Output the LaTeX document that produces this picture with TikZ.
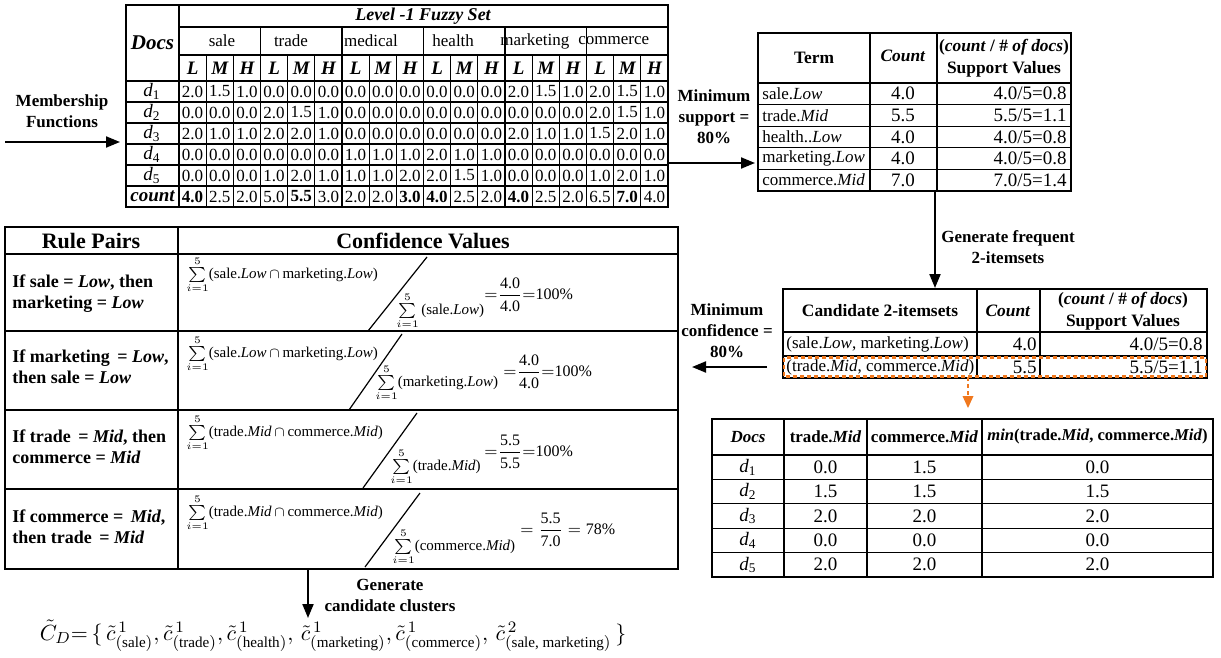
\documentclass[tikz,border=0pt]{standalone}
\usepackage{fontspec}
\usepackage{amsmath}
\setmainfont{Liberation Serif}
\usetikzlibrary{arrows.meta,calc}
\definecolor{dorange}{RGB}{240,120,30}
\newcommand{\mysum}{$\textstyle\sum\limits_{i=1}^{5}$}
\begin{document}
\begin{tikzpicture}[x=0.5pt,y=-0.5pt,
  tb/.style={line width=0.9pt},
  ti/.style={line width=0.6pt},
  v/.style={inner sep=0pt,font=\fontsize{8.5}{10}\selectfont},
  vb/.style={inner sep=0pt,font=\fontsize{9.5}{11}\selectfont},
  hd/.style={inner sep=0pt,font=\bfseries\fontsize{8.7}{11}\selectfont,align=center},
  lab/.style={inner sep=0pt,font=\bfseries\fontsize{8.5}{10.5}\selectfont,align=center},
  rulet/.style={inner sep=0pt,anchor=west,font=\bfseries\fontsize{9}{10.5}\selectfont,align=left},
  fm/.style={inner sep=0pt,anchor=west,font=\fontsize{7.5}{9}\selectfont},
  eqn/.style={inner sep=0pt,anchor=west,font=\fontsize{8}{9}\selectfont},
  arr/.style={line width=1pt,-{Triangle[length=7pt,width=5.5pt]}},
]
\fill[white] (0,0) rectangle (1221,658);
\useasboundingbox (0,0) rectangle (1221,658);

% ================= T1 : Level-1 fuzzy set
\draw[tb] (126,5) rectangle (668,207);
\foreach \yy in {27,55} \draw[ti] (179,\yy) -- (668,\yy);
\foreach \yy in {81,102,123,144,165,186} \draw[ti] (126,\yy) -- (668,\yy);
\draw[ti] (179,5) -- (179,207);
\foreach \k in {1,...,5} \draw[ti] ({179+3*\k*27.1667},27) -- ({179+3*\k*27.1667},207);
\foreach \k in {1,...,17} \draw[ti] ({179+\k*27.1667},55) -- ({179+\k*27.1667},207);
\node[inner sep=0pt,font=\bfseries\itshape\fontsize{10.5}{12}\selectfont] (docs1) at (152.5,43) {Docs};
\node[inner sep=0pt,font=\bfseries\itshape\fontsize{9}{11}\selectfont] (lvl) at (423,16) {Level -1 Fuzzy Set};
\node[v] (tsale) at (222,41) {sale};
\node[v] (ttrade) at (291,41) {trade};
\node[v] (tmed) at (371,41) {medical};
\node[v,anchor=west] (thealth) at (432,41) {health};
\node[v,anchor=west] (tmark) at (500,41) {marketing};
\node[v,anchor=west] (tcomm) at (578,41) {commerce};
\foreach \k in {0,...,5} {
  \node[inner sep=0pt,font=\bfseries\itshape\fontsize{9.5}{11}\selectfont] (hl\k) at ({179+(3*\k+0.5)*27.1667},68) {L};
  \node[inner sep=0pt,font=\bfseries\itshape\fontsize{9.5}{11}\selectfont] (hm\k) at ({179+(3*\k+1.5)*27.1667},68) {M};
  \node[inner sep=0pt,font=\bfseries\itshape\fontsize{9.5}{11}\selectfont] (hh\k) at ({179+(3*\k+2.5)*27.1667},68) {H};
}
\foreach \i in {1,...,5} \node[vb] (t1d\i) at (152,{81+(\i-0.5)*21}) {\textit{d}\textsubscript{\i}};
\node[inner sep=0pt,font=\bfseries\itshape\fontsize{9.5}{11}\selectfont] (t1cnt) at (152.5,196.5) {count};
\foreach \row [count=\r] in {
 {2.0,1.5,1.0,0.0,0.0,0.0,0.0,0.0,0.0,0.0,0.0,0.0,2.0,1.5,1.0,2.0,1.5,1.0},
 {0.0,0.0,0.0,2.0,1.5,1.0,0.0,0.0,0.0,0.0,0.0,0.0,0.0,0.0,0.0,2.0,1.5,1.0},
 {2.0,1.0,1.0,2.0,2.0,1.0,0.0,0.0,0.0,0.0,0.0,0.0,2.0,1.0,1.0,1.5,2.0,1.0},
 {0.0,0.0,0.0,0.0,0.0,0.0,1.0,1.0,1.0,2.0,1.0,1.0,0.0,0.0,0.0,0.0,0.0,0.0},
 {0.0,0.0,0.0,1.0,2.0,1.0,1.0,1.0,2.0,2.0,1.5,1.0,0.0,0.0,0.0,1.0,2.0,1.0},
 {\textbf{4.0},2.5,2.0,5.0,\textbf{5.5},3.0,2.0,2.0,\textbf{3.0},\textbf{4.0},2.5,2.0,\textbf{4.0},2.5,2.0,6.5,\textbf{7.0},4.0}} {
  \foreach \val [count=\c] in \row {
    \node[v] (t1c\r-\c) at ({179+(\c-0.5)*27.1667},{81+(\r-0.5)*21}) {\val};
  }
}
\node[lab] (mf) at (62,111) {Membership\\Functions};
\coordinate (mfa) at (5,142);
\coordinate (mfb) at (120,142);
\draw[arr] (mfa) -- (mfb);

% ================= T2 : support
\draw[tb] (758,33) rectangle (1071,191);
\draw[ti] (870,33) -- (870,191);
\draw[ti] (937,33) -- (937,191);
\foreach \yy in {83,104.6,126.2,147.8,169.4} \draw[ti] (758,\yy) -- (1071,\yy);
\node[hd] (t2h1) at (814,58) {Term};
\node[hd] (t2h2) at (903,56) {\textit{Count}};
\node[hd] (t2h3) at (1004,58) {(\textit{count} / \# \textit{of docs})\\Support Values};
\foreach \t [count=\i] in {sale.\textit{Low},trade.\textit{Mid},health..\textit{Low},marketing.\textit{Low},commerce.\textit{Mid}}
  \node[v,anchor=west] (t2t\i) at (762,{83+(\i-0.5)*21.6}) {\t};
\foreach \c [count=\i] in {4.0,5.5,4.0,4.0,7.0}
  \node[vb] (t2c\i) at (903,{83+(\i-0.5)*21.6}) {\c};
\foreach \s [count=\i] in {4.0/5=0.8,5.5/5=1.1,4.0/5=0.8,4.0/5=0.8,7.0/5=1.4}
  \node[vb,anchor=east] (t2s\i) at (1067,{83+(\i-0.5)*21.6}) {\s};
\node[lab] (minsup) at (714,117) {Minimum\\support =\\80\%};
\coordinate (msa) at (668,163);
\coordinate (msb) at (755,163);
\draw[arr] (msa) -- (msb);

% ================= T3 : candidate 2-itemsets
\coordinate (gfa) at (935,191);
\coordinate (gfb) at (935,288);
\draw[arr] (gfa) -- (gfb);
\node[lab] (genf) at (1008,247) {Generate frequent\\2-itemsets};
\draw[tb] (783,289) rectangle (1207,378);
\draw[ti] (977,289) -- (977,378);
\draw[ti] (1040,289) -- (1040,378);
\draw[ti] (783,332) -- (1207,332);
\draw[ti] (783,356) -- (1207,356);
\node[hd] (t3h1) at (880,311) {Candidate 2-itemsets};
\node[hd] (t3h2) at (1008,311) {\textit{Count}};
\node[hd] (t3h3) at (1123,311) {(\textit{count} / \# \textit{of docs})\\Support Values};
\node[v,anchor=west] (t3r1) at (786,344) {(sale.\textit{Low}, marketing.\textit{Low})};
\node[v,anchor=west] (t3r2) at (786,367) {(trade.\textit{Mid}, commerce.\textit{Mid})};
\node[vb,anchor=east] (t3c1) at (1037,344) {4.0};
\node[vb,anchor=east] (t3c2) at (1037,367) {5.5};
\node[vb,anchor=east] (t3s1) at (1203,344) {4.0/5=0.8};
\node[vb,anchor=east] (t3s2) at (1203,367) {5.5/5=1.1};
\draw[dorange,line width=1.1pt,dash pattern=on 2pt off 1.5pt] (784,357.5) rectangle (1206,376.5);
\coordinate (ora) at (968,377);
\coordinate (orb) at (968,408);
\draw[dorange,line width=1.1pt,dash pattern=on 2pt off 1.5pt] (ora) -- ($(orb)+(0,-10)$);
\fill[dorange] (orb) -- ++(-5.5,-12) -- ++(11,0) -- cycle;
\node[lab] (mincf) at (727,331) {Minimum\\confidence =\\80\%};
\coordinate (mca) at (767,367);
\coordinate (mcb) at (692,367);
\draw[arr] (mca) -- (mcb);

% ================= T5 : min table
\draw[tb] (712,419) rectangle (1213,577);
\foreach \xx in {784,867,982} \draw[ti] (\xx,419) -- (\xx,577);
\foreach \yy in {455,479.4,503.8,528.2,552.6} \draw[ti] (712,\yy) -- (1213,\yy);
\node[inner sep=0pt,font=\bfseries\itshape\fontsize{8.5}{10}\selectfont] (t5h1) at (748,437) {Docs};
\node[inner sep=0pt,font=\bfseries\fontsize{8.5}{10}\selectfont] (t5h2) at (825.5,437) {trade.\textit{Mid}};
\node[inner sep=0pt,font=\bfseries\fontsize{8.5}{10}\selectfont] (t5h3) at (924.5,437) {commerce.\textit{Mid}};
\node[inner sep=0pt,font=\bfseries\fontsize{8.3}{10}\selectfont] (t5h4) at (1097.5,437) {\textit{min}(trade.\textit{Mid}, commerce.\textit{Mid})};
\foreach \a/\b/\c [count=\i] in {0.0/1.5/0.0,1.5/1.5/1.5,2.0/2.0/2.0,0.0/0.0/0.0,2.0/2.0/2.0} {
  \node[vb] (t5d\i) at (748,{455+(\i-0.5)*24.4}) {\textit{d}\textsubscript{\i}};
  \node[vb] (t5a\i) at (825.5,{455+(\i-0.5)*24.4}) {\a};
  \node[vb] (t5b\i) at (924.5,{455+(\i-0.5)*24.4}) {\b};
  \node[vb] (t5c\i) at (1097.5,{455+(\i-0.5)*24.4}) {\c};
}

% ================= T4 : rule pairs
\draw[tb] (5,227) rectangle (678,569);
\draw[ti] (178,227) -- (178,569);
\foreach \yy in {254,331,410,489} \draw[ti] (5,\yy) -- (678,\yy);
\node[inner sep=0pt,font=\bfseries\fontsize{11}{13}\selectfont] (rph) at (91,241) {Rule Pairs};
\node[inner sep=0pt,font=\bfseries\fontsize{11}{13}\selectfont] (cvh) at (423,241) {Confidence Values};
% row 1
\node[rulet] (r1) at (12,294) {If sale = \textit{Low}, then\\marketing = \textit{Low}};
\node[fm] (n1) at (186,275) {\mysum(sale.\textit{Low}\,$\cap$\,marketing.\textit{Low})};
\coordinate (s1a) at (368,331); \coordinate (s1b) at (427,257);
\draw[ti] (s1a) -- (s1b);
\node[fm] (dn1) at (396,311) {\mysum\,(sale.\textit{Low})};
\node[eqn] (e1) at (484,295) {${=}\dfrac{\text{4.0}}{\text{4.0}}{=}\text{100\%}$};
% row 2
\node[rulet] (r2) at (12,367) {If marketing \,= \textit{Low},\\then sale = \textit{Low}};
\node[fm] (n2) at (186,354) {\mysum(sale.\textit{Low}\,$\cap$\,marketing.\textit{Low})};
\coordinate (s2a) at (349,410); \coordinate (s2b) at (402,334);
\draw[ti] (s2a) -- (s2b);
\node[fm] (dn2) at (375,383) {\mysum(marketing.\textit{Low})};
\node[eqn] (e2) at (503,372) {${=}\dfrac{\text{4.0}}{\text{4.0}}{=}\text{100\%}$};
% row 3
\node[rulet] (r3) at (12,447) {If trade \,= \textit{Mid}, then\\commerce = \textit{Mid}};
\node[fm] (n3) at (186,433) {\mysum(trade.\textit{Mid}\,$\cap$\,commerce.\textit{Mid})};
\coordinate (s3a) at (363,488); \coordinate (s3b) at (417,413);
\draw[ti] (s3a) -- (s3b);
\node[fm] (dn3) at (390,467) {\mysum(trade.\textit{Mid})};
\node[eqn] (e3) at (484,452) {${=}\dfrac{\text{5.5}}{\text{5.5}}{=}\text{100\%}$};
% row 4
\node[rulet] (r4) at (12,527) {If commerce = \,\textit{Mid},\\then trade \,= \textit{Mid}};
\node[fm] (n4) at (186,513) {\mysum(trade.\textit{Mid}\,$\cap$\,commerce.\textit{Mid})};
\coordinate (s4a) at (365,567); \coordinate (s4b) at (420,493);
\draw[ti] (s4a) -- (s4b);
\node[fm] (dn4) at (392,547) {\mysum(commerce.\textit{Mid})};
\node[eqn] (e4) at (520,530) {$=\dfrac{\text{5.5}}{\text{7.0}}=\text{78\%}$};

% ================= bottom
\coordinate (gca) at (308,569);
\coordinate (gcb) at (308,618);
\draw[arr] (gca) -- (gcb);
\node[lab] (genc) at (390,595) {Generate\\candidate clusters};
\node[inner sep=0pt,font=\fontsize{10.8}{13}\selectfont] (cd) at (333,636)
 {$\tilde{C}_D{=}\,\{\,\tilde{c}^{\,1}_{(\text{sale})},\tilde{c}^{\,1}_{(\text{trade})},\tilde{c}^{\,1}_{(\text{health})},\,\tilde{c}^{\,1}_{(\text{marketing})},\tilde{c}^{\,1}_{(\text{commerce})},\,\tilde{c}^{\,2}_{(\text{sale, marketing})}\,\}$};
\end{tikzpicture}
\end{document}
